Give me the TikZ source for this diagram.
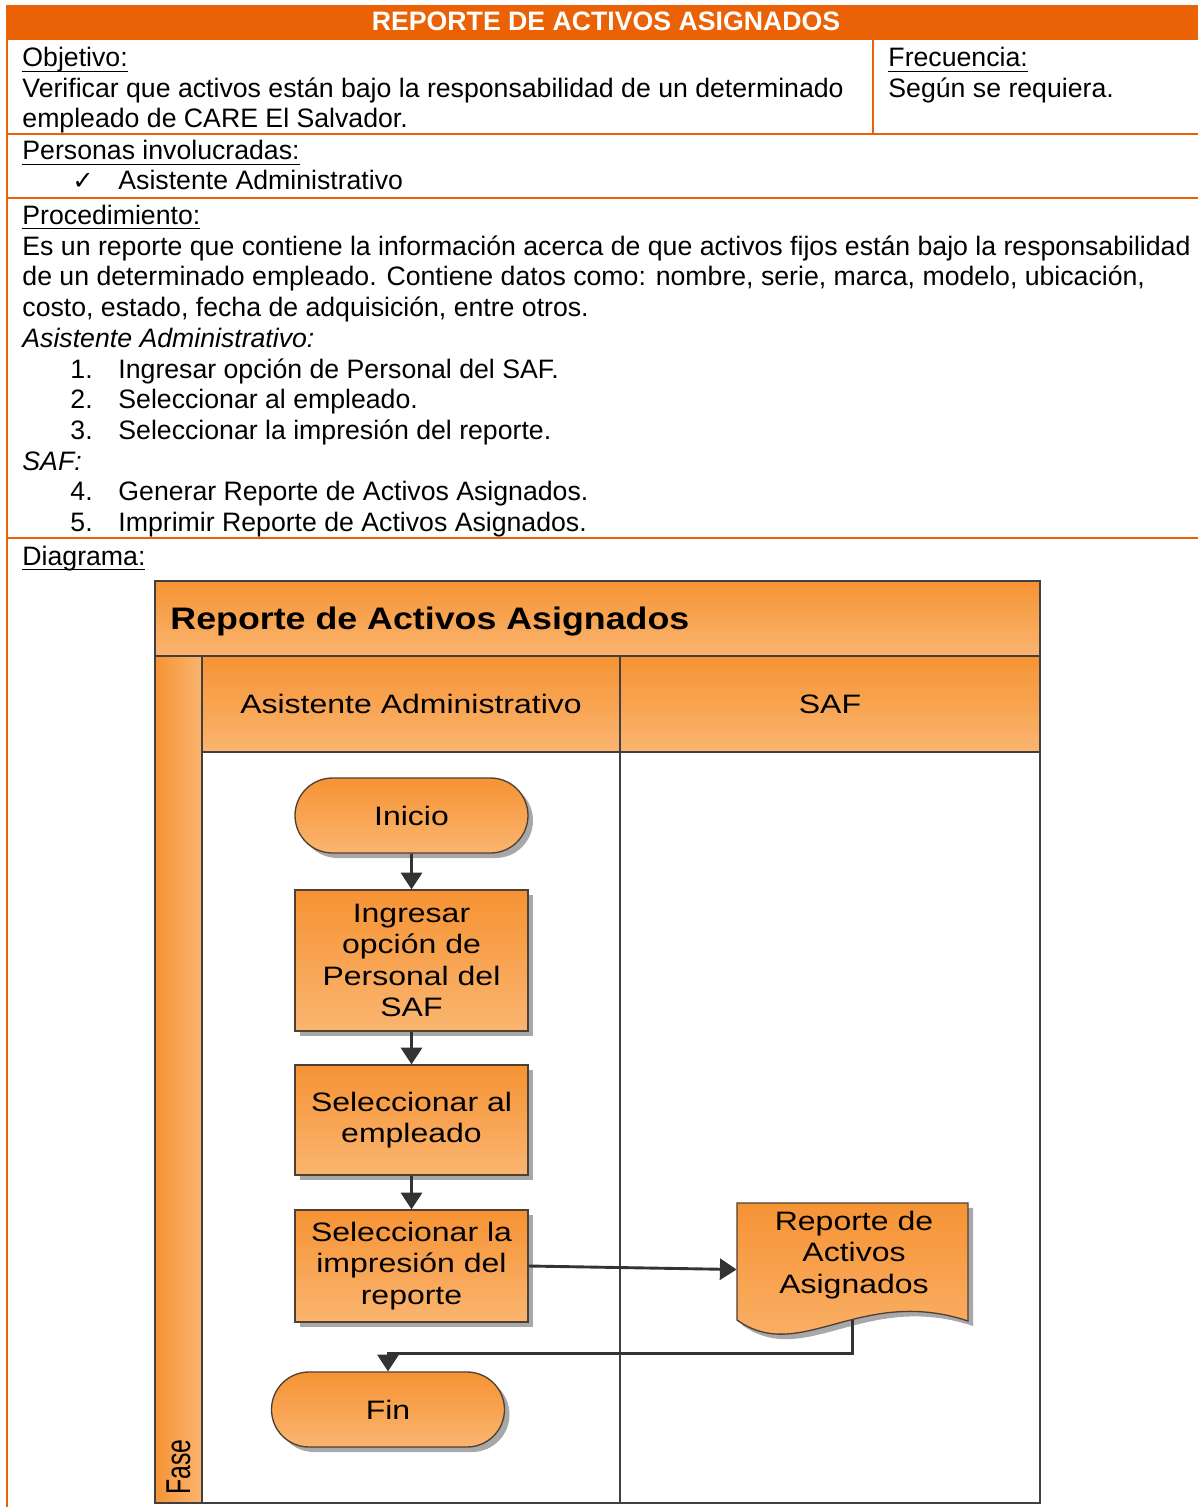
\documentclass[tikz,border=0pt]{standalone}
\usepackage{fontspec}
\setmainfont{Liberation Sans}
\newfontfamily\symfont{DejaVu Sans}
\newfontfamily\diafont[FakeStretch=1.2]{Liberation Sans}
\newfontfamily\diatitle[FakeStretch=1.15]{Liberation Sans}
\usetikzlibrary{arrows.meta,shapes.misc,shadows,calc}

\definecolor{careorange}{RGB}{235,97,5}
\definecolor{lanetop}{RGB}{246,147,52}
\definecolor{lanebot}{RGB}{250,181,112}
\definecolor{edge}{RGB}{64,64,64}
\definecolor{boxline}{RGB}{80,64,52}
\definecolor{conn}{RGB}{51,51,51}
\definecolor{shadowgray}{RGB}{168,168,168}

% underlined heading with the rule just below the baseline
\newsavebox\ulbox
\newcommand\ulabel[1]{\sbox\ulbox{#1}\rlap{\rule[-2.2pt]{\wd\ulbox}{0.6pt}}\usebox\ulbox}

\begin{document}
\begin{tikzpicture}[x=0.45pt,y=-0.45pt,
  txt/.style={anchor=base west,inner sep=0pt,font=\fontsize{12}{13.8}\selectfont},
  rulerline/.style={draw=careorange,line width=1.1pt},
  lanefill/.style={top color=lanetop,bottom color=lanebot},
  frame/.style={draw=edge,line width=1.1pt},
  boxshadow/.style={drop shadow={shadow xshift=2.25pt,shadow yshift=-2.25pt,fill=shadowgray,opacity=1}},
  diatext/.style={font=\diafont\fontsize{12}{14}\selectfont},
  stepbox/.style={rectangle,draw=boxline,line width=0.6pt,lanefill,boxshadow,
    minimum width=233*0.45pt,align=center,diatext,inner sep=0pt},
  term/.style={rounded rectangle,draw=boxline,line width=0.6pt,lanefill,boxshadow,
    minimum width=233*0.45pt,minimum height=75*0.45pt,diatext,inner sep=0pt},
  docpath/.style={draw=boxline,line width=0.6pt,lanefill,boxshadow},
  flow/.style={draw=conn,line width=1.3pt,-{Triangle[length=7.5pt,width=9.5pt]}}]

\useasboundingbox (0,0) rectangle (1198,1507);
\fill[white] (0,0) rectangle (1198,1507);

% ---- form table ----
\fill[careorange] (7,5) rectangle (1198,40);
\node[anchor=base,inner sep=0pt,text=white,font=\bfseries\fontsize{12}{14}\selectfont] (head) at (606,31) {REPORTE DE ACTIVOS ASIGNADOS};
\draw[rulerline] (7,5) -- (7,1507);
\draw[rulerline] (7,134) -- (1198,134);
\draw[rulerline] (7,198) -- (1198,198);
\draw[rulerline] (7,538) -- (1198,538);
\draw[rulerline] (873,40) -- (873,134);

\node[txt] (obj) at (22,67) {\ulabel{Objetivo:}};
\node[txt] (obj1) at (22,97.5) {Verificar que activos están bajo la responsabilidad de un determinado};
\node[txt] (obj2) at (22,128) {empleado de CARE El Salvador.};
\node[txt] (frec) at (888,67) {\ulabel{Frecuencia:}};
\node[txt] (frec1) at (888,97.5) {Según se requiera.};

\node[txt] (pers) at (22,160) {\ulabel{Personas involucradas:}};
\node[txt] (chk) at (72,190) {{\symfont\fontsize{11.5}{13}\selectfont ✓}};
\node[txt] (pers1) at (118,190) {Asistente Administrativo};

\node[txt] (proc) at (22,224.5) {\ulabel{Procedimiento:}};
\node[txt] (proc1) at (22,255.2) {Es un reporte que contiene la información acerca de que activos fijos están bajo la responsabilidad};
\node[txt] (proc2) at (22,285.9) {de un determinado empleado. Contiene datos como: nombre, serie, marca, modelo, ubicación,};
\node[txt] (proc3) at (22,316.6) {costo, estado, fecha de adquisición, entre otros.};
\node[txt] (roleA) at (22,347.3) {\itshape Asistente Administrativo:};
\node[txt] (n1) at (70,378) {1.};
\node[txt] (t1) at (118,378) {Ingresar opción de Personal del SAF.};
\node[txt] (n2) at (70,408.7) {2.};
\node[txt] (t2) at (118,408.7) {Seleccionar al empleado.};
\node[txt] (n3) at (70,439.4) {3.};
\node[txt] (t3) at (118,439.4) {Seleccionar la impresión del reporte.};
\node[txt] (roleB) at (22,470.1) {\itshape SAF:};
\node[txt] (n4) at (70,500.8) {4.};
\node[txt] (t4) at (118,500.8) {Generar Reporte de Activos Asignados.};
\node[txt] (n5) at (70,531.5) {5.};
\node[txt] (t5) at (118,531.5) {Imprimir Reporte de Activos Asignados.};
\node[txt] (diag) at (22,565) {\ulabel{Diagrama:}};

% ---- swimlane frame ----
\path[lanefill] (155,581) rectangle (1040,656);
\path[left color=lanetop,right color=lanebot] (155,656) rectangle (202,1503);
\path[lanefill] (202,656) rectangle (620,752);
\path[lanefill] (620,656) rectangle (1040,752);
\draw[frame] (155,656) -- (1040,656);
\draw[frame] (202,752) -- (1040,752);
\draw[frame] (202,656) -- (202,1503);
\draw[frame] (620,656) -- (620,1503);
\draw[frame] (155,581) rectangle (1040,1503);

\node[anchor=base west,inner sep=0pt,font=\diatitle\bfseries\fontsize{14}{16}\selectfont] (ptitle) at (170,629) {Reporte de Activos Asignados};
\node[anchor=base,inner sep=0pt,diatext] (laneA) at (411,713) {Asistente Administrativo};
\node[anchor=base,inner sep=0pt,diatext] (laneB) at (830,713) {SAF};
\node[rotate=90,anchor=base west,inner sep=0pt,font=\fontsize{15.5}{17}\selectfont] (phase) at (190,1495) {\scalebox{0.72}[1]{Fase}};

% ---- flow ----
\node[term] (ini) at (411.5,815.5) {Inicio};
\node[stepbox,minimum height=141*0.45pt] (s1) at (411.5,960.5) {Ingresar\\opción de\\Personal del\\SAF};
\node[stepbox,minimum height=110*0.45pt] (s2) at (411.5,1120) {Seleccionar al\\empleado};
\node[stepbox,minimum height=112*0.45pt] (s3) at (411.5,1266) {Seleccionar la\\impresión del\\reporte};

\path[docpath] (737,1203) -- (968,1203) -- (968,1321)
  .. controls (860,1285) and (800,1365) .. (737,1320) -- cycle;
\node[minimum width=231*0.45pt,minimum height=117*0.45pt,inner sep=0pt] (doc) at (852.5,1261.5) {};
\node[align=center,inner sep=0pt,diatext] (doctext) at (854,1255) {Reporte de\\Activos\\Asignados};

\node[term] (fin) at (388,1409.5) {Fin};

\draw[flow] (ini) -- (s1);
\draw[flow] (s1) -- (s2);
\draw[flow] (s2) -- (s3);
\draw[flow] (s3.east) -- ($(doc.west)+(0,8)$);
\coordinate (turn) at ($(fin.north)+(0,-18)$);
\draw[flow] (doc.south) |- (turn) -- (fin.north);
\end{tikzpicture}
\end{document}
